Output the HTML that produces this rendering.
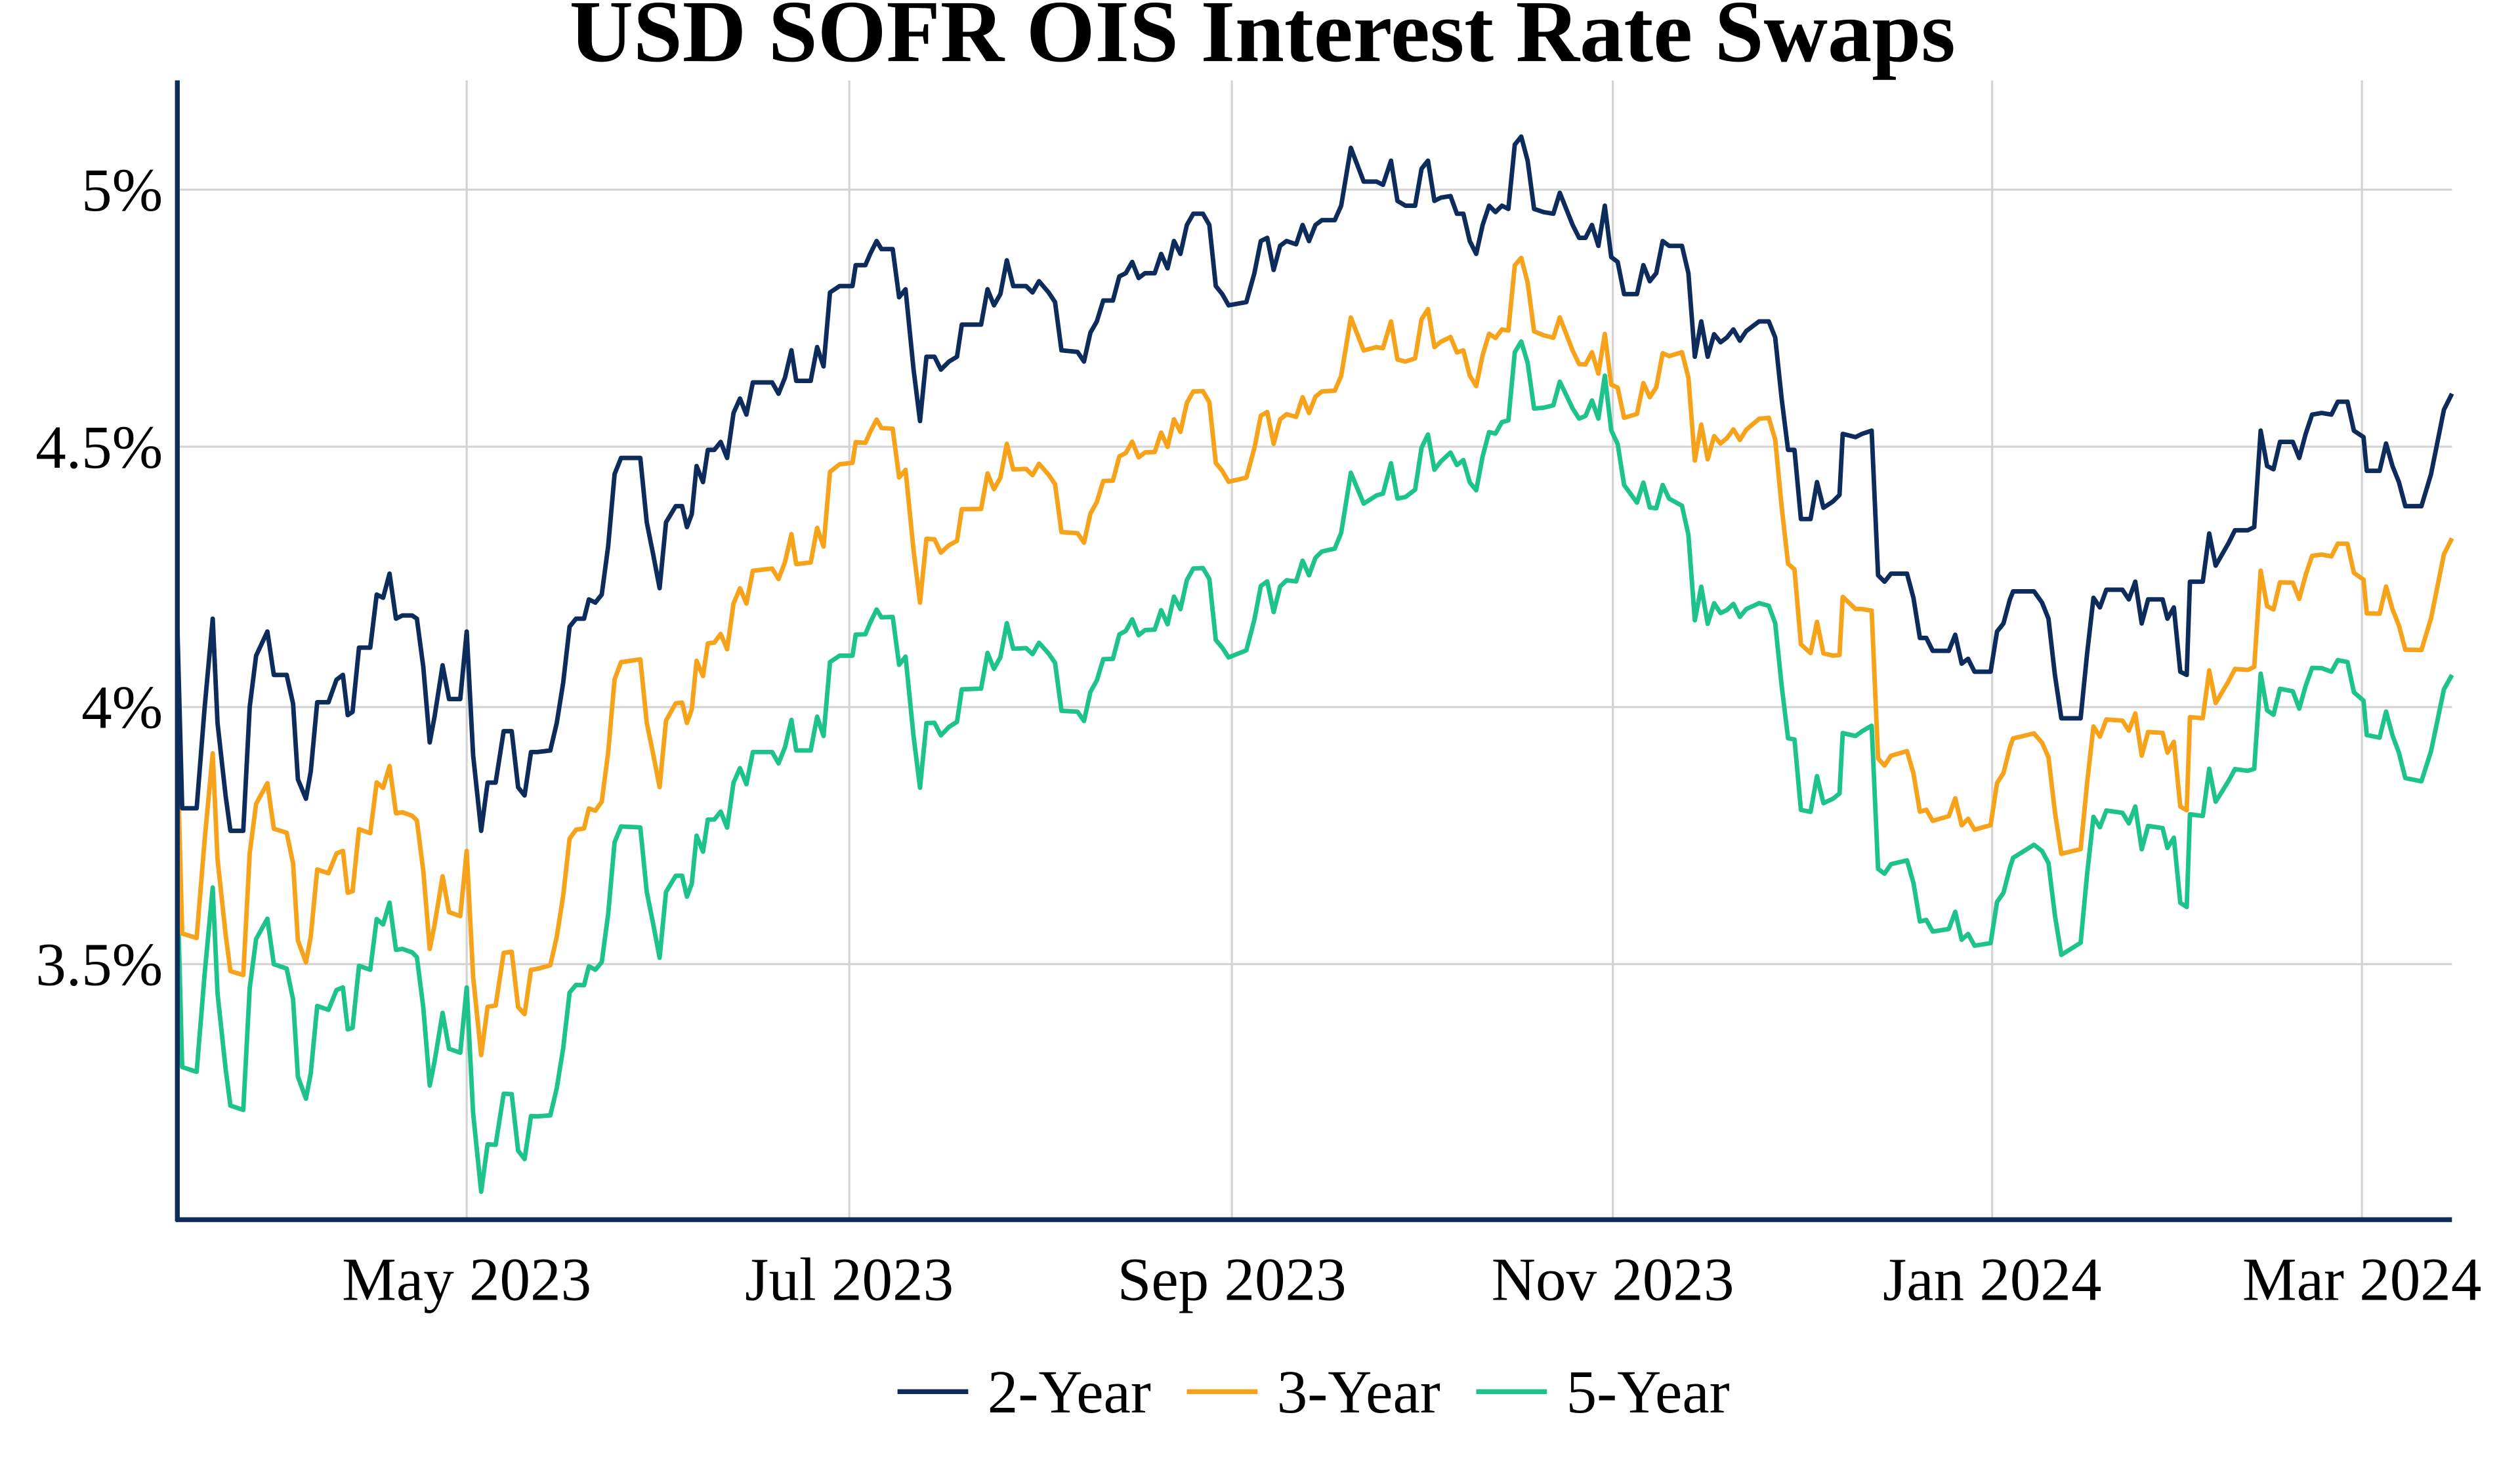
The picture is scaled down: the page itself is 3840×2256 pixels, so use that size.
<!DOCTYPE html>
<html><head><meta charset="utf-8"><style>
html,body{margin:0;padding:0;background:#fff}
svg{display:block}
text{font-family:"Liberation Serif",serif;fill:#000}
</style></head><body>
<svg id="s" width="3840" height="2256" viewBox="0 0 1567 921" xmlns="http://www.w3.org/2000/svg">
<text x="785" y="38" text-anchor="middle" font-size="55" font-weight="bold">USD SOFR OIS Interest Rate Swaps</text>
<g stroke="#d3d3d3" stroke-width="1.3">
<line x1="110" y1="118" x2="1525" y2="118"/><line x1="110" y1="278" x2="1525" y2="278"/>
<line x1="110" y1="440" x2="1525" y2="440"/><line x1="110" y1="600" x2="1525" y2="600"/>
<line x1="290" y1="50" x2="290" y2="759"/><line x1="528" y1="50" x2="528" y2="759"/>
<line x1="766" y1="50" x2="766" y2="759"/><line x1="1003" y1="50" x2="1003" y2="759"/>
<line x1="1239" y1="50" x2="1239" y2="759"/><line x1="1469" y1="50" x2="1469" y2="759"/>
</g>
<g font-size="38" text-anchor="end">
<text x="101" y="131">5%</text><text x="101" y="291">4.5%</text>
<text x="101" y="453">4%</text><text x="101" y="613">3.5%</text>
</g>
<g font-size="38" text-anchor="middle">
<text x="290" y="809">May 2023</text><text x="528" y="809">Jul 2023</text>
<text x="766" y="809">Sep 2023</text><text x="1003" y="809">Nov 2023</text>
<text x="1239" y="809">Jan 2024</text><text x="1469" y="809">Mar 2024</text>
</g>
<g id="lines" fill="none" stroke-width="2.8" stroke-linejoin="round"></g>
<line x1="110" y1="50" x2="110" y2="760" stroke="#0d2b5b" stroke-width="3"/>
<line x1="109" y1="759" x2="1525" y2="759" stroke="#0d2b5b" stroke-width="3"/>
<g font-size="38">
<line x1="558" y1="866" x2="602" y2="866" stroke="#0d2b5b" stroke-width="3"/><text x="614" y="879">2-Year</text>
<line x1="738" y1="866" x2="782" y2="866" stroke="#f7a21b" stroke-width="3"/><text x="794" y="879">3-Year</text>
<line x1="918" y1="866" x2="962" y2="866" stroke="#1ec28b" stroke-width="3"/><text x="974" y="879">5-Year</text>
</g>
</svg>
<script>
var p=[110,390,113,503,122,503,127,440,132,385,135,450,140,495,143,517,151,517,155,440,159,408,166,393,170,420,178,420,182,438,185,485,190,497,193,480,197,437,204,437,209,423,213,420,216,445,219,443,223,403,230,403,234,370,238,372,242,357,246,385,250,383,256,383,259,385,263,415,267,462,270,446,275,414,279,435,286,435,290,393,294,470,299,517,303,487,308,487,313,455,318,455,322,490,326,495,330,468,334,468,342,467,346,450,350,425,354,390,358,385,363,385,366,373,370,375,374,370,378,340,382,295,386,285,398,285,402,325,406,345,410,366,414,325,420,315,424,315,427,328,430,320,433,290,437,300,440,280,444,280,448,275,452,285,456,257,460,248,464,258,468,238,480,238,484,245,488,235,492,218,495,237,500,237,504,237,508,216,512,228,516,182,522,178,530,178,532,165,538,165,541,158,545,150,548,155,555,155,559,185,563,180,568,230,572,262,576,222,581,222,585,230,590,225,595,222,598,202,610,202,614,180,618,190,622,183,626,162,630,178,638,178,642,182,646,175,652,182,656,188,660,218,670,219,674,225,678,207,682,200,686,187,692,187,696,172,700,170,704,163,708,173,712,170,718,170,722,158,726,167,730,150,734,158,738,140,742,133,748,133,752,140,756,178,760,183,764,190,775,188,780,170,784,150,788,148,792,168,796,153,800,150,806,152,810,140,814,150,818,140,822,137,830,137,834,128,840,92,848,113,856,113,860,115,865,100,869,125,874,128,880,128,884,105,888,100,892,125,896,123,902,122,906,133,910,133,914,150,918,158,922,140,926,128,930,132,934,128,938,130,942,90,946,85,950,100,954,130,960,132,966,133,970,120,974,130,978,140,982,148,986,148,990,140,994,153,998,128,1002,160,1006,163,1010,183,1018,183,1022,165,1026,175,1030,170,1034,150,1038,153,1046,153,1050,170,1054,222,1058,200,1062,222,1066,208,1070,213,1074,210,1078,205,1082,212,1086,206,1090,203,1094,200,1100,200,1104,210,1108,248,1112,280,1116,280,1120,323,1126,323,1130,300,1134,316,1140,312,1144,308,1146,270,1154,272,1158,270,1164,268,1168,358,1172,362,1176,357,1186,357,1190,372,1194,397,1198,397,1202,405,1212,405,1216,395,1220,413,1224,410,1228,418,1238,418,1242,393,1246,388,1250,373,1252,368,1265,368,1270,375,1274,385,1278,420,1282,447,1294,447,1298,407,1302,372,1306,378,1310,367,1320,367,1324,373,1328,362,1332,388,1336,373,1345,373,1348,385,1352,378,1356,418,1360,420,1362,362,1370,362,1374,332,1378,352,1382,345,1386,338,1390,330,1398,330,1402,328,1406,268,1410,290,1414,292,1418,275,1426,275,1430,285,1434,270,1438,258,1444,257,1450,258,1454,250,1460,250,1464,268,1470,272,1472,293,1480,293,1484,276,1488,290,1492,300,1496,315,1506,315,1512,295,1516,275,1520,255,1525,245];
var o3=[110,77,200,105,300,140,400,125,530,110,600,115,760,110,850,105,940,75,1000,80,1050,65,1100,60,1150,105,1170,115,1250,92,1300,80,1400,87,1525,90];
var o5=[110,160,200,190,300,225,400,230,530,230,760,220,850,200,940,130,1000,105,1040,160,1100,177,1150,187,1200,175,1250,167,1300,136,1400,150,1525,175];
function off(t,x){for(var i=0;i<t.length-2;i+=2){if(x<=t[i+2]){var f=(x-t[i])/(t[i+2]-t[i]);return t[i+1]+f*(t[i+3]-t[i+1]);}}return t[t.length-1];}
function mk(t,c){var s=[];for(var i=0;i<p.length;i+=2){var y=p[i+1]+(t?off(t,p[i]):0);s.push(p[i]+','+y.toFixed(1));}
var e=document.createElementNS('http://www.w3.org/2000/svg','polyline');e.setAttribute('points',s.join(' '));e.setAttribute('stroke',c);document.getElementById('lines').appendChild(e);}
mk(o5,'#1ec28b');mk(o3,'#f7a21b');mk(null,'#0d2b5b');
</script>
</body></html>
